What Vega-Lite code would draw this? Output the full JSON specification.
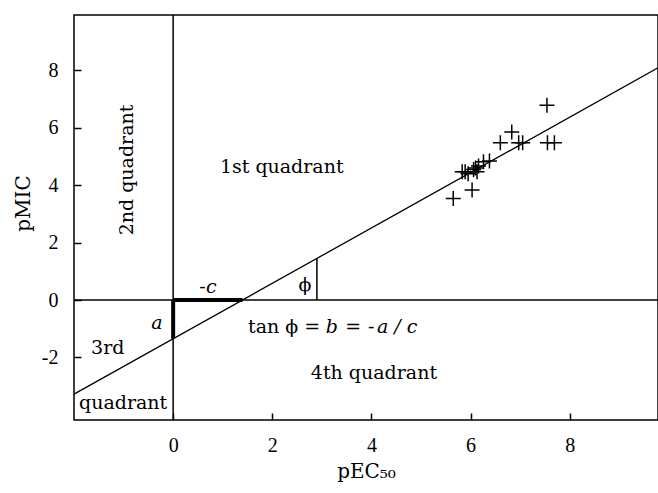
{
  "$schema": "https://vega.github.io/schema/vega-lite/v6.json",
  "width": 584,
  "height": 405,
  "autosize": "none",
  "padding": {"left": 74, "top": 15, "right": 0, "bottom": 73},
  "background": "white",
  "config": {
    "view": {"stroke": "black", "strokeWidth": 1.5},
    "font": "DejaVu Serif",
    "axis": {
      "grid": false,
      "domain": false,
      "labelColor": "black",
      "labelFont": "Liberation Serif",
      "labelFontSize": 20,
      "labelExpr": "'' + datum.value",
      "titleFont": "DejaVu Serif",
      "titleFontSize": 20,
      "titleFontWeight": "normal",
      "titleColor": "black",
      "titleBaseline": "middle"
    }
  },
  "datasets": {
    "points": [
      {"pEC50": 7.54, "pMIC": 6.79},
      {"pEC50": 6.83, "pMIC": 5.85},
      {"pEC50": 6.60, "pMIC": 5.48},
      {"pEC50": 6.97, "pMIC": 5.48},
      {"pEC50": 7.05, "pMIC": 5.48},
      {"pEC50": 7.55, "pMIC": 5.48},
      {"pEC50": 7.69, "pMIC": 5.48},
      {"pEC50": 6.38, "pMIC": 4.84},
      {"pEC50": 6.26, "pMIC": 4.82},
      {"pEC50": 6.16, "pMIC": 4.67},
      {"pEC50": 6.06, "pMIC": 4.55},
      {"pEC50": 5.89, "pMIC": 4.47},
      {"pEC50": 5.83, "pMIC": 4.47},
      {"pEC50": 6.13, "pMIC": 4.47},
      {"pEC50": 6.03, "pMIC": 3.83},
      {"pEC50": 5.65, "pMIC": 3.54},
      {"pEC50": 5.95, "pMIC": 4.40},
      {"pEC50": 6.10, "pMIC": 4.60}
    ],
    "fit": [
      {"pEC50": -2, "pMIC": -3.28},
      {"pEC50": 9.78, "pMIC": 8.09}
    ],
    "segments": [
      {"x": 0, "x2": 1.40, "y": 0, "y2": 0, "w": 4},
      {"x": 0, "x2": 0, "y": 0, "y2": -1.35, "w": 4},
      {"x": 2.9, "x2": 2.9, "y": 0, "y2": 1.45, "w": 1.5},
      {"x": -2, "x2": 9.78, "y": 0, "y2": 0, "w": 1.5},
      {"x": 0, "x2": 0, "y": -4.18, "y2": 9.93, "w": 1.5}
    ],
    "labels": [
      {"x": 2.19, "y": 4.64, "t": "1st quadrant", "a": 0},
      {"x": -0.93, "y": 4.53, "t": "2nd quadrant", "a": 270},
      {"x": -1.32, "y": -1.67, "t": "3rd", "a": 0},
      {"x": -1.01, "y": -3.59, "t": "quadrant", "a": 0},
      {"x": 4.05, "y": -2.54, "t": "4th quadrant", "a": 0},
      {"x": 2.66, "y": 0.52, "t": "ϕ", "a": 0},
      {"x": 0.59, "y": 0.46, "t": "-", "a": 0}
    ],
    "italics": [
      {"x": 0.77, "y": 0.46, "t": "c"},
      {"x": -0.33, "y": -0.8, "t": "a"}
    ],
    "formulaNormal": [
      {"x": 1.51, "y": -0.93, "t": "tan ϕ ="},
      {"x": 3.47, "y": -0.93, "t": "="},
      {"x": 3.93, "y": -0.93, "t": "-"}
    ],
    "formulaItalic": [
      {"x": 3.08, "y": -0.93, "t": "b"},
      {"x": 4.11, "y": -0.93, "t": "a / c"}
    ]
  },
  "layer": [
    {
      "data": {"name": "segments"},
      "mark": {"type": "rule", "color": "black"},
      "encoding": {
        "x": {"field": "x", "type": "quantitative", "scale": {"domain": [-2, 9.78], "nice": false, "zero": false}},
        "x2": {"field": "x2"},
        "y": {"field": "y", "type": "quantitative", "scale": {"domain": [-4.18, 9.93], "nice": false, "zero": false}},
        "y2": {"field": "y2"},
        "strokeWidth": {"field": "w", "type": "quantitative", "scale": null}
      }
    },
    {
      "data": {"name": "fit"},
      "mark": {"type": "line", "color": "black", "strokeWidth": 1.3},
      "encoding": {
        "x": {"field": "pEC50", "type": "quantitative"},
        "y": {"field": "pMIC", "type": "quantitative"}
      }
    },
    {
      "data": {"name": "points"},
      "mark": {"type": "point", "shape": "M-1,0H1M0,-1V1", "filled": false, "color": "black", "strokeWidth": 1.5, "size": 225, "opacity": 1},
      "encoding": {
        "x": {"field": "pEC50", "type": "quantitative", "title": "pEC₅₀",
              "axis": {"values": [0, 2, 4, 6, 8], "ticks": true, "tickSize": 7, "tickWidth": 1.5, "tickColor": "black", "offset": -7, "zindex": 1, "labelPadding": 15, "titleX": 292, "titleY": 58}},
        "y": {"field": "pMIC", "type": "quantitative", "title": "pMIC",
              "axis": {"values": [-2, 0, 2, 4, 6, 8], "ticks": true, "tickSize": 7, "tickWidth": 1.5, "tickColor": "black", "offset": -7, "zindex": 1, "labelPadding": 16, "titleX": -58, "titleY": 188}}
      }
    },
    {
      "data": {"name": "labels"},
      "mark": {"type": "text", "color": "black", "fontSize": 19, "align": "center", "baseline": "middle"},
      "encoding": {
        "x": {"field": "x", "type": "quantitative"},
        "y": {"field": "y", "type": "quantitative"},
        "text": {"field": "t"},
        "angle": {"field": "a", "type": "quantitative", "scale": null}
      }
    },
    {
      "data": {"name": "italics"},
      "mark": {"type": "text", "color": "black", "fontSize": 19, "fontStyle": "italic", "align": "center", "baseline": "middle"},
      "encoding": {
        "x": {"field": "x", "type": "quantitative"},
        "y": {"field": "y", "type": "quantitative"},
        "text": {"field": "t"}
      }
    },
    {
      "data": {"name": "formulaNormal"},
      "mark": {"type": "text", "color": "black", "fontSize": 19, "align": "left", "baseline": "middle"},
      "encoding": {
        "x": {"field": "x", "type": "quantitative"},
        "y": {"field": "y", "type": "quantitative"},
        "text": {"field": "t"}
      }
    },
    {
      "data": {"name": "formulaItalic"},
      "mark": {"type": "text", "color": "black", "fontSize": 19, "fontStyle": "italic", "align": "left", "baseline": "middle"},
      "encoding": {
        "x": {"field": "x", "type": "quantitative"},
        "y": {"field": "y", "type": "quantitative"},
        "text": {"field": "t"}
      }
    }
  ]
}
